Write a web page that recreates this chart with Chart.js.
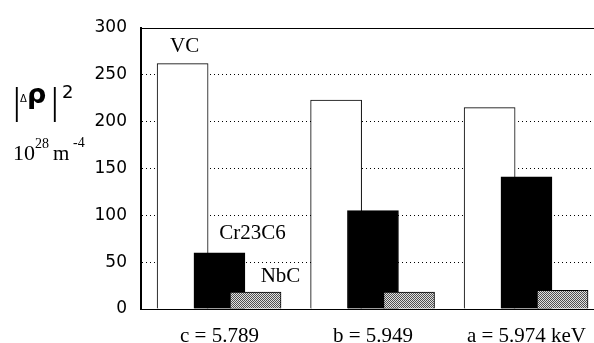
<!DOCTYPE html>
<html>
<head>
<meta charset="utf-8">
<script src="https://cdn.jsdelivr.net/npm/chart.js@4.4.1/dist/chart.umd.min.js"></script>
<style>
  html, body { margin: 0; padding: 0; background: #fff; overflow: hidden; }
  #wrap { position: relative; width: 594px; height: 343px; }
</style>
</head>
<body>
<div id="wrap"><canvas id="chart"></canvas></div>
<script>
"use strict";

// energies (x categories) and |Δρ|² per carbide, 10^28 m^-4
var groups = ['c = 5.789', 'b = 5.949', 'a = 5.974 keV'];
var vcValues = [262, 223, 215];
var crValues = [60, 105, 141];
var nbcValues = [18, 18, 20];
var seriesNames = ['VC', 'Cr23C6', 'NbC'];
var seriesShift = [-0.24, 0, 0.235];
var yMax = 300;
var yStep = 50;

var serif = '"Liberation Serif", "Times New Roman", serif';
var sans = '"DejaVu Sans", sans-serif';

// grey dither for the NbC bars
var makeDither = function() {
    var c = document.createElement('canvas');
    c.width = 2;
    c.height = 2;
    var g = c.getContext('2d');
    g.fillStyle = '#e0e0e0';
    g.fillRect(0, 0, 2, 2);
    g.fillStyle = '#505050';
    g.fillRect(0, 0, 1, 1);
    g.fillRect(1, 1, 1, 1);
    return g.createPattern(c, 'repeat');
};

var toPoints = function(values, shift) {
    return values.map(function(v, i) { return { x: i + shift, y: v }; });
};

var fills = ['#ffffff', '#000000', makeDither()];
var valueSets = [vcValues, crValues, nbcValues];

var datasets = valueSets.map(function(vals, s) {
    return {
        label: seriesNames[s],
        data: toPoints(vals, seriesShift[s]),
        backgroundColor: fills[s],
        borderColor: '#000',
        borderWidth: 1,
        borderSkipped: 'bottom',
        barThickness: 51,
        grouped: false,
        order: 3 - s
    };
});

// frame top line, axis title and the series names beside the first group
var annotate = {
    id: 'annotate',
    afterDraw: function(chart) {
        var ctx = chart.ctx;
        var area = chart.chartArea;
        ctx.save();
        ctx.strokeStyle = '#000';
        ctx.lineWidth = 1;
        ctx.beginPath();
        ctx.moveTo(area.left, area.top + 0.5);
        ctx.lineTo(area.right, area.top + 0.5);
        ctx.stroke();

        ctx.fillStyle = '#000';
        ctx.textBaseline = 'alphabetic';
        ctx.textAlign = 'left';
        ctx.font = '38px ' + serif;
        ctx.fillText('|', 13, 114);
        ctx.fillText('|', 51, 114);
        ctx.font = '10px ' + sans;
        ctx.fillText('\u0394', 20, 102);
        ctx.font = 'bold 27px ' + sans;
        ctx.fillText('\u03c1', 27, 103);
        ctx.font = '18px ' + sans;
        ctx.fillText('2', 62, 98);

        ctx.font = '22px ' + serif;
        ctx.fillText('10', 13, 160);
        ctx.font = '14px ' + serif;
        ctx.fillText('28', 35, 148);
        ctx.font = '21px ' + serif;
        ctx.fillText('m', 53, 160);
        ctx.font = '14px ' + serif;
        ctx.fillText('-4', 73, 147);

        // series names placed from the first bar of each dataset
        var offsets = [[2, -17], [33, -19], [25, -16]];
        ctx.font = '21px ' + serif;
        ctx.textAlign = 'center';
        ctx.textBaseline = 'middle';
        chart.data.datasets.forEach(function(ds, s) {
            var bar = chart.getDatasetMeta(s).data[0];
            ctx.fillText(ds.label, bar.x + offsets[s][0], bar.y + offsets[s][1]);
        });
        ctx.restore();
    }
};

var createChart = function(chartElement, data, options) {
    return new Chart(chartElement, {
        type: 'bar',
        data: { datasets: data },
        options: options,
        plugins: [annotate]
    });
};

createChart(document.getElementById('chart'), datasets, {
    responsive: true,
    maintainAspectRatio: false,
    animation: false,
    events: [],
    layout: { padding: { top: 28, right: 0, bottom: 0, left: 0 } },
    plugins: {
        legend: { display: false },
        tooltip: { enabled: false }
    },
    scales: {
        x: {
            type: 'linear',
            offset: false,
            min: -0.511,
            max: 2.44,
            afterBuildTicks: function(scale) {
                scale.ticks = groups.map(function(g, i) { return { value: i }; });
            },
            afterFit: function(scale) { scale.height = 34; },
            grid: { display: false, offset: false },
            border: { display: true, color: '#000', width: 1 },
            ticks: {
                color: '#000',
                padding: 7,
                maxRotation: 0,
                autoSkip: false,
                font: { family: serif, size: 21 },
                callback: function(v) { return groups[v]; }
            }
        },
        y: {
            min: 0,
            max: yMax,
            afterFit: function(scale) { scale.width = 141; },
            grid: {
                drawTicks: false,
                lineWidth: 1,
                color: function(c) {
                    var v = c.tick ? c.tick.value : 0;
                    return (v === 0 || v === yMax) ? 'rgba(0,0,0,0)' : '#000';
                }
            },
            border: { display: true, color: '#000', width: 2, dash: [1, 3] },
            ticks: {
                stepSize: yStep,
                color: '#000',
                padding: 14,
                font: { family: sans, size: 17 }
            }
        }
    }
});
</script>
</body>
</html>
